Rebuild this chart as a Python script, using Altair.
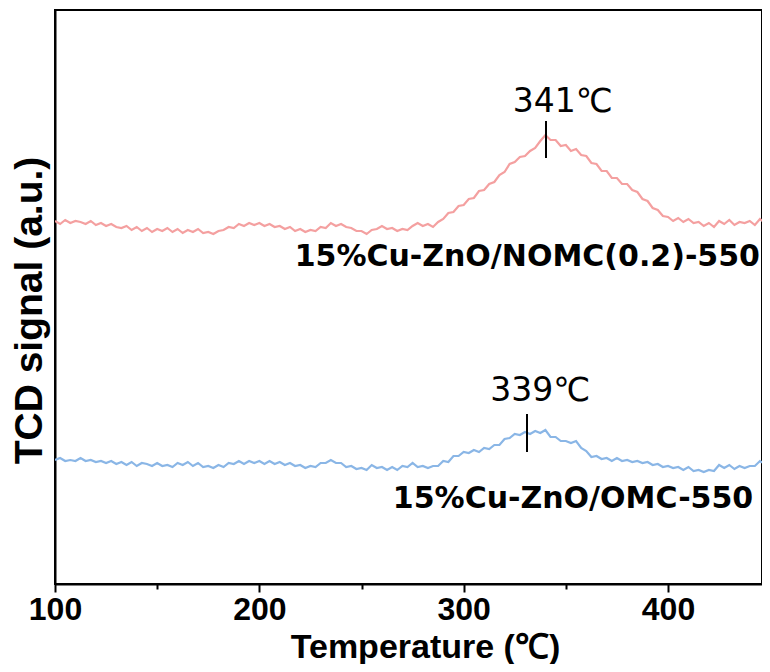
import altair as alt
import pandas as pd

# Temperature grid (°C) sampled every 2.5 °C from 100
T_START = 100
T_STEP = 2.5

# TCD signal (a.u.), 15%Cu-ZnO/NOMC(0.2)-550
RED = [
    363, 360, 364, 361, 363, 362, 360, 363, 359, 361,
    358, 360, 357, 356, 358, 354, 357, 353, 356, 352,
    355, 353, 356, 352, 355, 351, 354, 352, 355, 351,
    352, 350, 353, 354, 357, 356, 360, 358, 361, 359,
    361, 358, 360, 357, 358, 355, 357, 353, 355, 352,
    354, 353, 357, 356, 361, 358, 360, 357, 356, 353,
    353, 350, 354, 355, 358, 355, 356, 353, 355, 354,
    358, 361, 358, 360, 357, 362, 365, 371, 372, 378,
    379, 385, 386, 393, 394, 400, 402, 409, 412, 420,
    422, 427, 428, 433, 436, 443, 449, 444, 444, 438,
    439, 433, 435, 429, 428, 421, 420, 413, 413, 406,
    406, 400, 400, 394, 392, 385, 383, 376, 374, 368,
    367, 363, 366, 362, 365, 361, 362, 358, 361, 357,
    363, 360, 364, 359, 362, 361, 363, 359, 365, 361,
    363,
]

# TCD signal (a.u.), 15%Cu-ZnO/OMC-550
BLUE = [
    124, 126, 123, 124, 123, 126, 123, 124, 122, 123,
    121, 123, 120, 122, 119, 122, 118, 121, 120, 118,
    121, 118, 119, 117, 121, 119, 122, 118, 121, 117,
    118, 116, 119, 117, 121, 120, 123, 120, 123, 121,
    123, 120, 123, 120, 122, 119, 121, 118, 119, 116,
    118, 117, 121, 121, 124, 121, 121, 117, 118, 115,
    116, 114, 119, 116, 117, 114, 117, 114, 118, 117,
    121, 117, 118, 116, 118, 118, 123, 122, 128, 128,
    132, 131, 134, 132, 136, 135, 139, 139, 145, 146,
    150, 149, 152, 150, 153, 151, 154, 147, 147, 143,
    143, 141, 143, 136, 133, 127, 128, 125, 126, 123,
    126, 123, 124, 122, 123, 121, 122, 119, 120, 117,
    118, 116, 117, 114, 117, 113, 114, 112, 114, 113,
    119, 116, 119, 115, 118, 116, 118, 118, 123, 120,
    122,
]

SAMPLES = ["15%Cu-ZnO/NOMC(0.2)-550", "15%Cu-ZnO/OMC-550"]
COLORS = ["#F4A0A0", "#8AB6E6"]

# Peak markers: position (°C), vertical extent (a.u.), label
PEAK_T = [340.3, 331.0]
PEAK_Y1 = [426, 132]
PEAK_Y2 = [463, 170]
PEAK_LABEL_T = [348.5, 337.5]
PEAK_LABEL_Y = [472, 183]
PEAK_LABELS = ["341℃", "339℃"]

# Sample name labels
NAME_T = [445.0, 441.7]
NAME_Y = [318, 76]

X_TICKS = [100, 200, 300, 400]
X_MINOR = [150, 250, 350]
X_DOMAIN = [100, 446]
Y_DOMAIN = [0, 574]
Y_TITLE = "TCD signal (a.u.)"

temps = [T_START + T_STEP * i for i in range(len(RED))]
df = pd.DataFrame({
    "T": temps + temps,
    "signal": RED + BLUE,
    "sample": [SAMPLES[0]] * len(RED) + [SAMPLES[1]] * len(BLUE),
})
peaks = pd.DataFrame({"T": PEAK_T, "y1": PEAK_Y1, "y2": PEAK_Y2})
peak_labels = pd.DataFrame({"T": PEAK_LABEL_T, "y": PEAK_LABEL_Y, "label": PEAK_LABELS})
names = pd.DataFrame({"T": NAME_T, "y": NAME_Y, "label": SAMPLES})

AX_FONT = "Liberation Sans"
xscale = alt.Scale(domain=X_DOMAIN, nice=False, zero=False)
yscale = alt.Scale(domain=Y_DOMAIN, nice=False, zero=False)
yaxis = alt.Axis(
    labels=False, ticks=False, title=Y_TITLE,
    titleFont=AX_FONT, titleFontSize=39, titleFontWeight="bold",
    titleColor="black", titlePadding=6, titleY=300,
)

lines = alt.Chart(df).mark_line(strokeWidth=2.2, clip=True).encode(
    x=alt.X("T:Q", scale=xscale, axis=alt.Axis(
        values=X_TICKS, tickSize=8, labelFont=AX_FONT, labelFontSize=32,
        labelFontWeight="bold", labelColor="black", labelPadding=2,
        labelFlush=False,
        title="Temperature (℃)", titleFont=AX_FONT, titleFontSize=34,
        titleFontWeight="bold", titleColor="black", titlePadding=5,
        titleX=370)),
    y=alt.Y("signal:Q", scale=yscale, axis=yaxis),
    color=alt.Color("sample:N", scale=alt.Scale(domain=SAMPLES, range=COLORS), legend=None),
    detail="sample:N",
)

minor = alt.Chart(df).mark_line(opacity=0).encode(
    x=alt.X("T:Q", scale=xscale, axis=alt.Axis(
        values=X_MINOR, tickSize=5, labels=False, domain=False, title=None,
        orient="bottom")),
    y=alt.Y("signal:Q", scale=yscale, axis=yaxis),
)

rules = alt.Chart(peaks).mark_rule(color="black", strokeWidth=2).encode(
    x=alt.X("T:Q", scale=xscale, axis=None),
    y=alt.Y("y1:Q", scale=yscale, axis=yaxis),
    y2="y2:Q",
)

ptext = alt.Chart(peak_labels).mark_text(
    font="DejaVu Sans", fontSize=33, align="center", baseline="alphabetic", color="black"
).encode(
    x=alt.X("T:Q", scale=xscale, axis=None),
    y=alt.Y("y:Q", scale=yscale, axis=yaxis),
    text="label:N",
)

ntext = alt.Chart(names).mark_text(
    font="DejaVu Sans", fontSize=30, fontWeight="bold", align="right",
    baseline="alphabetic", color="black"
).encode(
    x=alt.X("T:Q", scale=xscale, axis=None),
    y=alt.Y("y:Q", scale=yscale, axis=yaxis),
    text="label:N",
)

chart = alt.layer(lines, minor, rules, ptext, ntext).resolve_axis(
    x="independent"
).properties(
    width=707, height=574,
    padding={"left": 47, "top": 2, "right": 0, "bottom": 80},
    autosize=alt.AutoSizeParams(type="none"),
    background="white",
).configure_view(
    stroke="black", strokeWidth=2
).configure_axis(
    grid=False, domainColor="black", domainWidth=2, tickColor="black", tickWidth=2
)

chart.save("out.html", embed_options={"renderer": "svg", "actions": False})
